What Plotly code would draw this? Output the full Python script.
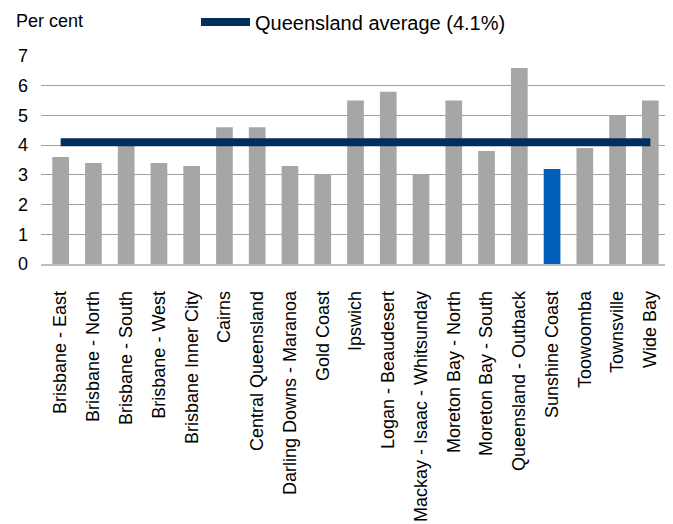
import plotly.graph_objects as go

categories = [
    "Brisbane - East", "Brisbane - North", "Brisbane - South", "Brisbane - West",
    "Brisbane Inner City", "Cairns", "Central Queensland", "Darling Downs - Maranoa",
    "Gold Coast", "Ipswich", "Logan - Beaudesert", "Mackay - Isaac - Whitsunday",
    "Moreton Bay - North", "Moreton Bay - South", "Queensland - Outback",
    "Sunshine Coast", "Toowoomba", "Townsville", "Wide Bay",
]
values = [3.6, 3.4, 4.0, 3.4, 3.3, 4.6, 4.6, 3.3, 3.0, 5.5, 5.8, 3.0, 5.5, 3.8, 6.6, 3.2, 3.9, 5.0, 5.5]
highlight = "Sunshine Coast"
qld_average = 4.1
avg_label = "Queensland average (4.1%)"
y_ticks = [0, 1, 2, 3, 4, 5, 6, 7]

GREY = "#A6A6A6"
BLUE = "#005EB8"
NAVY = "#002F5F"

bar_colors = [BLUE if c == highlight else GREY for c in categories]

fig = go.Figure()
fig.add_trace(go.Bar(
    x=categories, y=values, marker=dict(color=bar_colors, line=dict(width=0)),
    width=0.51, showlegend=False, hoverinfo="x+y",
))
fig.add_trace(go.Scatter(
    x=[categories[0], categories[-1]], y=[qld_average, qld_average],
    mode="lines", line=dict(color=NAVY, width=8), name=avg_label,
))

# the page body adds an 8px margin, so the figure is sized to fit the window
W, H = 665, 516
L, R, T, B = 33, 3, 48, 260
PW, PH = W - L - R, H - T - B

fig.update_layout(
    width=W, height=H,
    margin=dict(l=L, r=R, t=T, b=B, autoexpand=False),
    paper_bgcolor="white", plot_bgcolor="white",
    font=dict(family="Liberation Sans, Arial, sans-serif", size=18, color="#000000"),
    showlegend=True,
    legend=dict(
        orientation="h", x=(188 - L) / PW, xanchor="left", y=1 + (T - 14) / PH, yanchor="middle",
        font=dict(size=20), bgcolor="rgba(0,0,0,0)", itemwidth=49,
    ),
    xaxis=dict(
        type="category", range=[-0.6, 18.6], tickangle=-90,
        showgrid=False, showline=True, linecolor="#BDBDBD", linewidth=1.5,
        ticks="", ticklabelstandoff=18, fixedrange=True,
    ),
    yaxis=dict(
        range=[0, 7], tickvals=y_ticks, showgrid=True, gridcolor="#A0A0A0", gridwidth=1,
        zeroline=False, showline=False, ticks="", ticklabelstandoff=12, fixedrange=True,
    ),
    annotations=[dict(
        text="Per cent", xref="paper", yref="paper", x=(6 - L) / PW, y=1 + (T - 13) / PH,
        xanchor="left", yanchor="middle", showarrow=False, font=dict(size=18),
    )],
)

fig.write_html("out.html")
